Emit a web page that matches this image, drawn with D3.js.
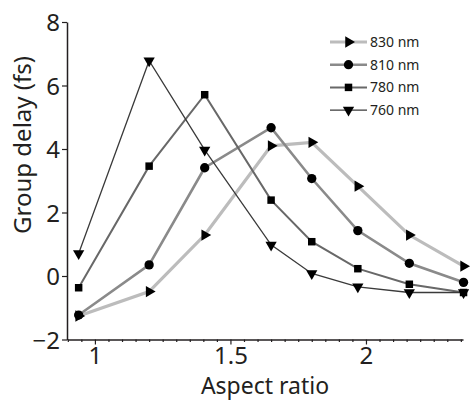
<!DOCTYPE html>
<html>
<head>
<meta charset="utf-8">
<script src="https://cdn.jsdelivr.net/npm/d3@7"></script>
<style>
  body { margin: 0; background: #fff; }
  text { font-family: "Noto Sans", sans-serif; fill: #231f20; }
</style>
</head>
<body>
<div id="chart"></div>
<script>
// Aspect ratio positions shared by every series
const aspectRatios = [0.94, 1.2, 1.405, 1.65, 1.8, 1.97, 2.16, 2.36];

// Group delay (fs) for each wavelength
const delay830 = [-1.26, -0.49, 1.29, 4.1, 4.21, 2.83, 1.29, 0.31];
const delay810 = [-1.23, 0.35, 3.41, 4.67, 3.07, 1.43, 0.4, -0.2];
const delay780 = [-0.37, 3.46, 5.71, 2.39, 1.08, 0.23, -0.26, -0.52];
const delay760 = [0.71, 6.78, 3.97, 0.98, 0.08, -0.34, -0.52, -0.52];

const seriesNames = ['830 nm', '810 nm', '780 nm', '760 nm'];
const yTicks = [-2, 0, 2, 4, 6, 8];
const xTicks = [1, 1.5, 2];

const width = 472;
const height = 403;

const series = [
    { name: seriesNames[0], values: delay830, color: '#bcbcbc', lw: 3.2, shape: d3.symbolTriangle, rot: 90, size: 55 },
    { name: seriesNames[1], values: delay810, color: '#8a8a8a', lw: 2.6, shape: d3.symbolCircle, rot: 0, size: 68 },
    { name: seriesNames[2], values: delay780, color: '#686868', lw: 2.0, shape: d3.symbolSquare, rot: 0, size: 56 },
    { name: seriesNames[3], values: delay760, color: '#3a3a3a', lw: 1.3, shape: d3.symbolTriangle, rot: 180, size: 55 }
];

const svg = d3.select('#chart').append('svg')
    .attr('width', width)
    .attr('height', height);

const x = d3.scaleLinear().domain([0.897, 2.358]).range([67, 463]);
const y = d3.scaleLinear().domain([-2, 8]).range([339.5, 22]);

// y axis
const yAxis = svg.append('g')
    .attr('transform', `translate(${x.range()[0]},0)`)
    .call(d3.axisLeft(y).tickValues(yTicks).tickSize(5).tickSizeOuter(0).tickPadding(2));
yAxis.selectAll('text').style('font-size', '24px').attr('dy', '0.36em');

// x axis, minor ticks first
const minorTicks = d3.range(0.9, 2.36, 0.05).filter(v => !xTicks.some(t => Math.abs(t - v) < 1e-6));
svg.append('g')
    .attr('transform', `translate(0,${y.range()[0]})`)
    .call(d3.axisBottom(x).tickValues(minorTicks).tickSize(2.5).tickSizeOuter(0).tickFormat(''))
    .select('.domain').remove();
const xAxis = svg.append('g')
    .attr('transform', `translate(0,${y.range()[0]})`)
    .call(d3.axisBottom(x).tickValues(xTicks).tickSize(5).tickSizeOuter(0).tickPadding(2)
        .tickFormat(d3.format('')));
xAxis.selectAll('text').style('font-size', '24px');

svg.selectAll('.domain').attr('stroke', '#231f20').attr('stroke-width', 1.5);
svg.selectAll('.tick line').attr('stroke', '#231f20').attr('stroke-width', 1.2);

// axis titles
svg.append('text')
    .attr('x', 265)
    .attr('y', 394)
    .attr('text-anchor', 'middle')
    .style('font-size', '23px')
    .text('Aspect ratio');

svg.append('text')
    .attr('transform', 'translate(31,145) rotate(-90)')
    .attr('text-anchor', 'middle')
    .style('font-size', '24px')
    .text('Group delay (fs)');

const line = d3.line()
    .x((d, i) => x(aspectRatios[i]))
    .y(d => y(d));

// draw lines (lightest at the bottom)
series.forEach(s => {
    svg.append('path')
        .datum(s.values)
        .attr('fill', 'none')
        .attr('stroke', s.color)
        .attr('stroke-width', s.lw)
        .attr('d', line);
});

series.forEach(s => {
    svg.append('g').selectAll('path')
        .data(s.values)
        .enter()
        .append('path')
        .attr('d', d3.symbol().type(s.shape).size(s.size))
        .attr('transform', (d, i) => `translate(${x(aspectRatios[i])},${y(d)}) rotate(${s.rot})`)
        .attr('fill', '#000');
});

// legend
const legend = svg.append('g');
series.forEach((s, i) => {
    const ly = 42 + i * 22.7;
    legend.append('line')
        .attr('x1', 330).attr('x2', 367)
        .attr('y1', ly).attr('y2', ly)
        .attr('stroke', s.color)
        .attr('stroke-width', s.lw);
    legend.append('path')
        .attr('d', d3.symbol().type(s.shape).size(s.size))
        .attr('transform', `translate(348.5,${ly}) rotate(${s.rot})`)
        .attr('fill', '#000');
    legend.append('text')
        .attr('x', 370)
        .attr('y', ly)
        .attr('dy', '0.35em')
        .style('font-size', '14px')
        .text(s.name);
});
</script>
</body>
</html>
